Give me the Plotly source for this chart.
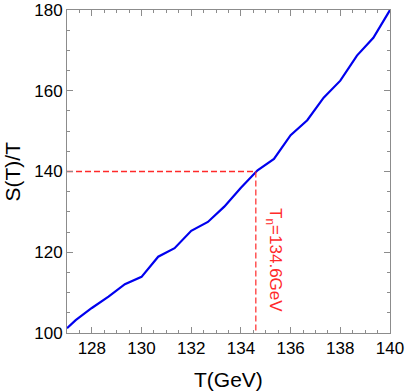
import plotly.graph_objects as go

# curve S(T)/T vs T
T = [127.0, 127.35, 128.0, 128.67, 129.33, 130.0, 130.67, 131.33, 132.0, 132.67,
     133.33, 134.0, 134.67, 135.33, 136.0, 136.67, 137.33, 138.0, 138.67, 139.33, 140.0]
S = [101.2, 103.2, 106.2, 109.0, 112.1, 113.9, 118.9, 121.0, 125.3, 127.5,
     131.3, 136.0, 140.3, 143.1, 149.0, 152.7, 158.3, 162.5, 168.7, 173.1, 180.0]

TN = 134.6
S_N = 140
LABEL = "T<sub>n</sub>=134.6GeV"
X_TITLE = "T(GeV)"
Y_TITLE = "S(T)/T"

RED = "#ff2a2a"
FRAME = "#8c8c8c"
FONT = "Liberation Sans, Arial, sans-serif"

fig = go.Figure()
fig.add_trace(go.Scatter(x=T, y=S, mode="lines", line=dict(color="#0000ee", width=2.2),
                         showlegend=False, hoverinfo="skip"))
# dashed guides
fig.add_trace(go.Scatter(x=[127, TN], y=[S_N, S_N], mode="lines",
                         line=dict(color=RED, width=1.4, dash="6px,3px"),
                         showlegend=False, hoverinfo="skip"))
fig.add_trace(go.Scatter(x=[TN, TN], y=[S_N, 100], mode="lines",
                         line=dict(color=RED, width=1.2, dash="6px,3px"),
                         showlegend=False, hoverinfo="skip"))

fig.add_annotation(x=135.3, y=118, text=LABEL, textangle=90, showarrow=False,
                   font=dict(color=RED, size=17, family=FONT))

# axis titles as annotations so margins stay fixed
title_font = dict(size=21, color="black", family=FONT)
fig.add_annotation(xref="paper", yref="paper", x=0.5, y=0, yshift=-46, yanchor="middle",
                   xanchor="center", text=X_TITLE, showarrow=False, font=title_font)
fig.add_annotation(xref="paper", yref="paper", x=0, y=0.5, xshift=-55, xanchor="center",
                   yanchor="middle", text=Y_TITLE, textangle=-90, showarrow=False,
                   font=title_font)

axis = dict(showline=True, linecolor=FRAME, linewidth=1, mirror="ticks", ticks="inside",
            ticklen=6, tickcolor=FRAME, showgrid=False, zeroline=False, automargin=False,
            tickfont=dict(size=17, color="black", family=FONT))
fig.update_xaxes(range=[127, 140], dtick=2, tick0=128,
                 minor=dict(dtick=0.5, ticks="inside", ticklen=3, tickcolor=FRAME), **axis)
fig.update_yaxes(range=[100, 180], dtick=20,
                 minor=dict(dtick=5, ticks="inside", ticklen=3, tickcolor=FRAME), **axis)

fig.update_layout(width=407, height=391, paper_bgcolor="white", plot_bgcolor="white",
                  margin=dict(l=67, r=17, t=10, b=58), font=dict(family=FONT))

# drop the default 8px body margin so the figure fills the window exactly
fig.write_html("out.html", config={"displayModeBar": False},
               post_script="document.body.style.margin='0';")
